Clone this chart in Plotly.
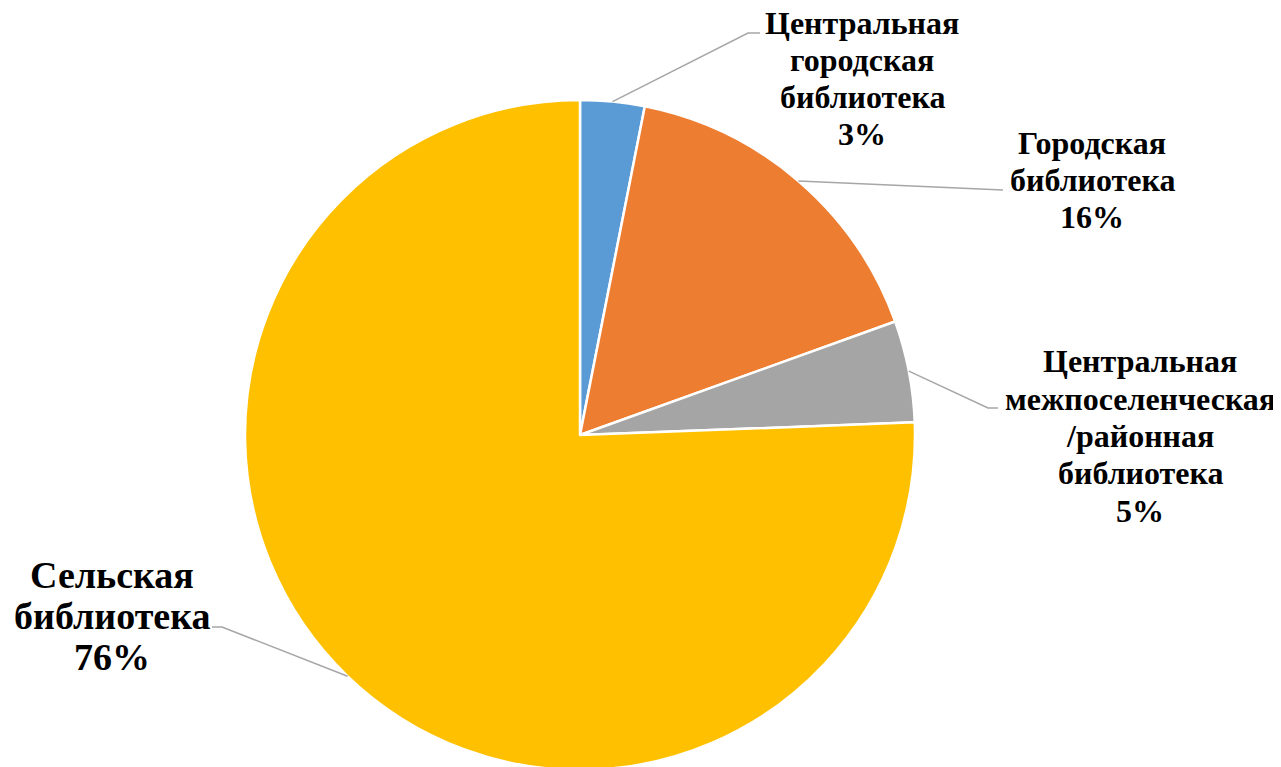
import math
import plotly.graph_objects as go

# ---- data ----
categories = [
    "Центральная городская библиотека",
    "Городская библиотека",
    "Центральная межпоселенческая /районная библиотека",
    "Сельская библиотека",
]
label_lines = [
    ["Центральная", "городская", "библиотека"],
    ["Городская", "библиотека"],
    ["Центральная", "межпоселенческая", "/районная", "библиотека"],
    ["Сельская", "библиотека"],
]
values = [3.1, 16.4, 4.9, 75.6]
colors = ["#5B9BD5", "#ED7D31", "#A5A5A5", "#FFC000"]

# ---- layout / style ----
W, H = 1281, 767
OFF = 8                            # page body margin
CX, CY, R = 580.0, 435.0, 335.0    # pie centre & radius in screen px
FONT = "Liberation Serif, Times New Roman, serif"

# label placement (screen px): centre x, first line centre y, line step, font size,
# leader elbow point, leader end point
label_style = [
    dict(x=862, y=23, step=37, size=32, elbow=(748, 33), end=(760, 33)),
    dict(x=1092, y=143, step=37, size=32, elbow=(1003, 190), end=(1003, 190)),
    dict(x=1140, y=361, step=37.5, size=32, elbow=(988, 408), end=(998, 408)),
    dict(x=112, y=575, step=41, size=38, elbow=(222, 627), end=(212, 627)),
]

def px(x):
    return (x - OFF) / W

def py(y):
    return 1 - (y - OFF) / H

fig = go.Figure(
    go.Pie(
        labels=categories,
        values=values,
        sort=False,
        direction="clockwise",
        rotation=0,
        textinfo="none",
        hoverinfo="label+percent",
        marker=dict(colors=colors, line=dict(color="white", width=2.5)),
        domain=dict(x=[px(CX - R), px(CX + R)], y=[py(CY + R), py(CY - R)]),
        showlegend=False,
    )
)

total = sum(values)
cum = 0.0
annotations = []
shapes = []
for v, lines, st in zip(values, label_lines, label_style):
    mid = (cum + v / 2) / total * 2 * math.pi
    cum += v
    sx = CX + R * math.sin(mid)
    sy = CY - R * math.cos(mid)
    ex, ey = st["elbow"]
    fx, fy = st["end"]
    path = f"M {px(sx)},{py(sy)} L {px(ex)},{py(ey)} L {px(fx)},{py(fy)}"
    shapes.append(dict(type="path", xref="paper", yref="paper", path=path,
                       line=dict(color="#A6A6A6", width=1.5)))
    text_lines = lines + [f"{round(v / total * 100)}%"]
    for i, t in enumerate(text_lines):
        annotations.append(dict(
            x=px(st["x"]), y=py(st["y"] + i * st["step"]),
            xref="paper", yref="paper", xanchor="center", yanchor="middle",
            text=f"<b>{t}</b>", showarrow=False,
            font=dict(family=FONT, size=st["size"], color="black"),
        ))

fig.update_layout(
    width=W, height=H,
    margin=dict(l=0, r=0, t=0, b=0),
    paper_bgcolor="white", plot_bgcolor="white",
    annotations=annotations, shapes=shapes,
)
fig.write_html("out.html")
